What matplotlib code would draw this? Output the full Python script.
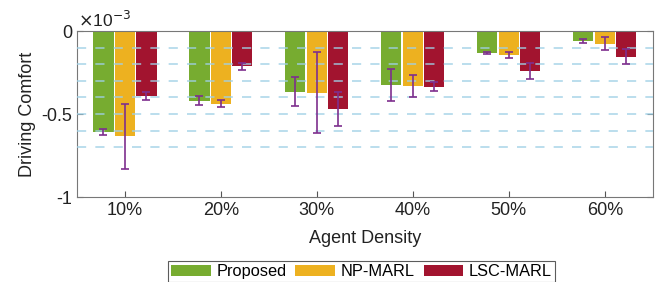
import matplotlib
matplotlib.use("Agg")
import matplotlib.pyplot as plt
import numpy as np

plt.rcParams['font.family'] = ['Liberation Sans', 'DejaVu Sans']

categories = ["10%", "20%", "30%", "40%", "50%", "60%"]
series_names = ["Proposed", "NP-MARL", "LSC-MARL"]
proposed = [-0.608, -0.420, -0.367, -0.325, -0.133, -0.060]
np_marl = [-0.635, -0.438, -0.372, -0.333, -0.143, -0.076]
lsc_marl = [-0.390, -0.213, -0.470, -0.335, -0.241, -0.155]
proposed_err = [0.020, 0.026, 0.087, 0.095, 0.008, 0.012]
np_marl_err = [0.195, 0.021, 0.244, 0.066, 0.018, 0.038]
lsc_marl_err = [0.025, 0.019, 0.100, 0.026, 0.050, 0.046]
grid_levels = [-0.1, -0.2, -0.3, -0.4, -0.5, -0.6, -0.7]

colors = ["#77AC30", "#EDB120", "#A2142F"]
err_color = "#7E2F8E"

fig = plt.figure(figsize=(6.62, 2.82), dpi=100)
ax = fig.add_axes([0.1163, 0.3014, 0.8697, 0.5886])

x = np.arange(1, len(categories) + 1)
offset = 0.224
width = 0.21
vals = [proposed, np_marl, lsc_marl]
errs = [proposed_err, np_marl_err, lsc_marl_err]
for i, (v, e, c, name) in enumerate(zip(vals, errs, colors, series_names)):
    xs = x + (i - 1) * offset
    ax.bar(xs, v, width=width, color=c, label=name, zorder=2)
    ax.errorbar(xs, v, yerr=e, fmt='none', ecolor=err_color, elinewidth=1.2,
                capsize=3, capthick=1.2, zorder=4)

for g in grid_levels:
    ax.axhline(g, color="#9fd0e6", lw=1.1, ls=(0, (6, 6)), zorder=3, alpha=0.9)

ax.set_xlim(0.5, 6.5)
ax.set_ylim(-1, 0)
ax.set_xticks(x)
ax.set_xticklabels(categories)
ax.set_yticks([-1, -0.5, 0])
ax.set_yticklabels(["-1", "-0.5", "0"])
ax.tick_params(direction='in', top=True, right=True, labelsize=13, length=4,
               color="#555555", labelcolor="#222222")
for s in ax.spines.values():
    s.set_color("#777777")
    s.set_linewidth(0.8)

ax.set_ylabel("Driving Comfort", fontsize=13, color="#222222")
ax.set_xlabel("Agent Density", fontsize=13, color="#222222", labelpad=8)
fig.text(0.118, 0.905, r"$\times$10$^{-3}$", fontsize=12.5, color="#222222")

leg = ax.legend(loc='upper center', bbox_to_anchor=(0.494, -0.385), ncol=3,
                fontsize=11.8, frameon=True, fancybox=False, edgecolor="#333333",
                handlelength=2.4, handleheight=0.7, columnspacing=0.55,
                handletextpad=0.35, borderpad=0.2, borderaxespad=0)
leg.get_frame().set_linewidth(0.8)

fig.savefig("out.png", dpi=100)
